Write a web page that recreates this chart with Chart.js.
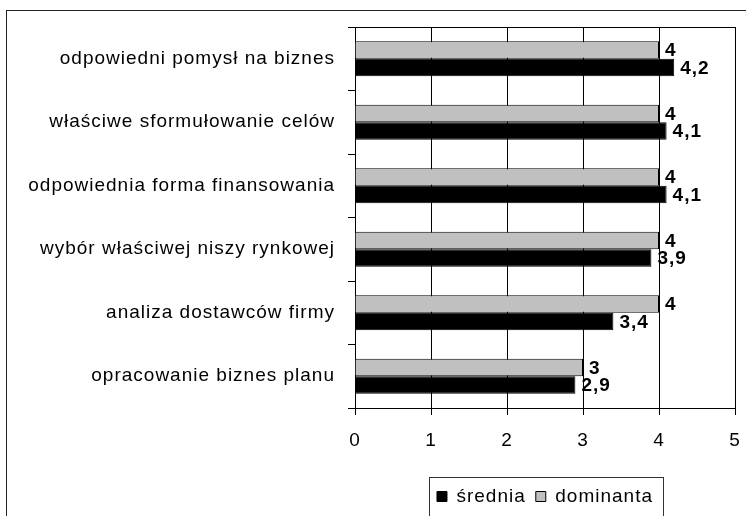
<!DOCTYPE html>
<html>
<head>
<meta charset="utf-8">
<script src="https://cdn.jsdelivr.net/npm/chart.js@4/dist/chart.umd.min.js"></script>
<style>
  html, body { margin: 0; padding: 0; background: #fff; }
  #wrap { position: relative; width: 746px; height: 516px; overflow: hidden; }
  #frame { position: absolute; left: 6px; top: 10px; width: 800px; height: 600px; border: 1px solid #222; }
  #c { position: absolute; left: 0; top: 0; }
</style>
</head>
<body>
<div id="wrap">
  <div id="frame"></div>
  <canvas id="c" width="746" height="516"></canvas>
</div>
<script>
// dane z wykresu
const categories = [
  'odpowiedni pomysł na biznes',
  'właściwe sformułowanie celów',
  'odpowiednia forma finansowania',
  'wybór właściwej niszy rynkowej',
  'analiza dostawców firmy',
  'opracowanie biznes planu'
];
const sredniaValues = [4.2, 4.1, 4.1, 3.9, 3.4, 2.9];
const dominantaValues = [4, 4, 4, 4, 4, 3];
const xMin = 0, xMax = 5, xStep = 1;

const FONT = '"Liberation Sans", Arial, sans-serif';
const SIZE = 19;
const SPACING = '1px';

// Excel rysuje tekst z lekkim rozstrzeleniem liter
const spacingPlugin = {
  id: 'spacing',
  beforeUpdate(chart) { chart.ctx.letterSpacing = SPACING; },
  beforeDraw(chart) { chart.ctx.letterSpacing = SPACING; }
};

// górna krawędź obszaru wykresu + ramka legendy
const framePlugin = {
  id: 'frame',
  afterDraw(chart) {
    const { ctx, chartArea: a, legend } = chart;
    ctx.save();
    ctx.strokeStyle = '#000';
    ctx.lineWidth = 1;
    ctx.beginPath();
    ctx.moveTo(a.left - 7, Math.round(a.top) + 0.5);
    ctx.lineTo(a.right, Math.round(a.top) + 0.5);
    ctx.stroke();

    const boxes = legend && legend.legendHitBoxes;
    if (boxes && boxes.length) {
      const l = Math.min(...boxes.map(b => b.left)) - 8;
      const r = Math.max(...boxes.map(b => b.left + b.width)) + 10;
      const t = Math.min(...boxes.map(b => b.top)) - 10;
      const bt = Math.max(...boxes.map(b => b.top + b.height)) + 10;
      ctx.strokeStyle = '#333';
      ctx.strokeRect(Math.round(l) + 0.5, Math.round(t) + 0.5, Math.round(r - l), Math.round(bt - t));
    }
    ctx.restore();
  }
};

// etykiety wartości na końcach słupków
const valueLabels = {
  id: 'valueLabels',
  afterDatasetsDraw(chart) {
    const { ctx } = chart;
    ctx.save();
    ctx.font = 'bold ' + SIZE + 'px ' + FONT;
    ctx.fillStyle = '#000';
    ctx.textAlign = 'left';
    ctx.textBaseline = 'middle';
    chart.data.datasets.forEach((ds, i) => {
      const meta = chart.getDatasetMeta(i);
      meta.data.forEach((el, j) => {
        const txt = String(ds.data[j]).replace('.', ',');
        ctx.fillText(txt, el.x + 6, el.y + 1);
      });
    });
    ctx.restore();
  }
};

const ctx = document.getElementById('c').getContext('2d');
new Chart(ctx, {
  type: 'bar',
  data: {
    labels: categories,
    datasets: [
      {
        label: 'dominanta',
        data: dominantaValues,
        backgroundColor: '#c0c0c0',
        borderColor: '#000',
        borderWidth: 1,
        categoryPercentage: 0.55,
        barPercentage: 1
      },
      {
        label: 'średnia',
        data: sredniaValues,
        backgroundColor: '#000',
        borderColor: '#000',
        borderWidth: 1,
        categoryPercentage: 0.55,
        barPercentage: 1
      }
    ]
  },
  options: {
    indexAxis: 'y',
    responsive: false,
    animation: false,
    layout: { padding: { top: 27, right: 11, left: 0, bottom: 0 } },
    scales: {
      x: {
        type: 'linear',
        min: xMin,
        max: xMax,
        ticks: { stepSize: xStep, color: '#000', font: { family: FONT, size: SIZE }, padding: 14 },
        grid: { color: '#000', lineWidth: 1, tickLength: 7, drawOnChartArea: true },
        border: { color: '#000', width: 1 },
        afterFit(s) {
          s.height = 69;
          s.paddingLeft = 0;
          s.paddingRight = 0;
        }
      },
      y: {
        type: 'category',
        ticks: { color: '#000', font: { family: FONT, size: SIZE }, padding: 13 },
        grid: { offset: true, drawOnChartArea: false, color: '#000', tickLength: 7 },
        border: { color: '#000', width: 1 },
        afterFit(s) { s.width = 355; }
      }
    },
    plugins: {
      legend: {
        position: 'bottom',
        fullSize: false,
        reverse: true,
        labels: {
          color: '#000',
          font: { family: FONT, size: SIZE },
          boxWidth: 10,
          boxHeight: 10,
          padding: 10
        }
      },
      tooltip: { enabled: false }
    }
  },
  plugins: [spacingPlugin, framePlugin, valueLabels]
});
</script>
</body>
</html>
